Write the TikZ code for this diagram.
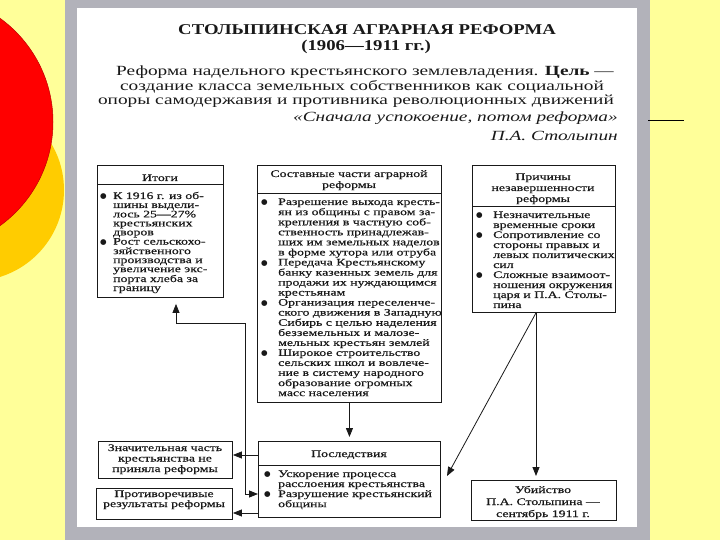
\documentclass[tikz,border=0pt]{standalone}
\usepackage{fontspec}
\setmainfont{Liberation Serif}
\newfontfamily\wf{Liberation Serif}[FakeStretch=1.38,FakeBold=0.5]
\newfontfamily\hf{Liberation Serif}[FakeStretch=1.38]
\newfontfamily\tf{Liberation Serif}[FakeStretch=1.25]
\newfontfamily\djv{DejaVu Sans}
\usetikzlibrary{arrows.meta,calc}
\definecolor{bgyellow}{RGB}{255,255,153}
\definecolor{framegray}{RGB}{178,178,186}
\definecolor{gold}{RGB}{255,204,0}
\definecolor{ink}{RGB}{25,25,25}
\newcommand{\bul}[1]{\makebox[#1][l]{\djv\fontsize{7.5}{10}\selectfont\raisebox{0.3pt}{●}}}
\begin{document}
\begin{tikzpicture}[x=1pt,y=-1pt,
  box/.style={draw=ink, line width=0.9pt, inner sep=0pt, anchor=north west},
  txt/.style={inner sep=0pt, text=ink},
  bodyf/.style={font=\wf\fontsize{10}{#1}\selectfont},
  arr/.style={draw=ink, line width=0.8pt, -{Triangle[length=9pt,width=7pt]}},
  arrb/.style={draw=ink, line width=0.8pt, {Triangle[length=9pt,width=7pt]}-{Triangle[length=9pt,width=7pt]}}]
\useasboundingbox (0,0) rectangle (720,540);
% slide background
\fill[bgyellow] (0,0) rectangle (720,540);
\fill[gold] (-27,190) circle[radius=91pt];
\fill[red, draw=red!75!black, line width=0.5pt] (-75,122) circle[radius=128pt];
\fill[framegray] (65,0) rectangle (650,540);
\fill[white] (77,8) rectangle (637,527);
\draw[black, line width=0.8pt] (648,120) -- (684,120);

% title block
\node[txt, anchor=base, font=\tf\bfseries\fontsize{15}{15}\selectfont] (title) at (367,35) {СТОЛЫПИНСКАЯ АГРАРНАЯ РЕФОРМА};
\node[txt, anchor=base, font=\tf\bfseries\fontsize{15}{15}\selectfont] (years) at (366,51) {(1906—1911 гг.)};
\node[txt, anchor=base, font=\hf\fontsize{14}{14}\selectfont] (l1) at (365,76) {Реформа надельного крестьянского землевладения. \textbf{Цель} —};
\node[txt, anchor=base, font=\hf\fontsize{14}{14}\selectfont] (l2) at (362,91) {создание класса земельных собственников как социальной};
\node[txt, anchor=base, font=\hf\fontsize{14}{14}\selectfont] (l3) at (356,105) {опоры самодержавия и противника революционных движений};
\node[txt, anchor=base east, font=\hf\itshape\fontsize{14}{14}\selectfont] (quote) at (618,122) {«Сначала успокоение, потом реформа»};
\node[txt, anchor=base east, font=\hf\itshape\fontsize{14}{14}\selectfont] (sign) at (618,141) {П.А. Столыпин};

% boxes
\node[box, minimum width=126pt, minimum height=132pt] (itogi) at (97,165) {};
\node[box, minimum width=184pt, minimum height=237pt] (sost) at (257,165) {};
\node[box, minimum width=143pt, minimum height=147pt] (prich) at (472,165) {};
\node[box, minimum width=182pt, minimum height=76pt] (posl) at (258,441) {};
\node[box, minimum width=134pt, minimum height=37pt] (znach) at (98,441) {};
\node[box, minimum width=136pt, minimum height=31pt] (protiv) at (96,488) {};
\node[box, minimum width=145pt, minimum height=40pt] (ubiy) at (471,480) {};

% header separators
\draw[ink, line width=0.9pt] (itogi.west |- 0,184) -- (itogi.east |- 0,184);
\draw[ink, line width=0.9pt] (sost.west |- 0,193) -- (sost.east |- 0,193);
\draw[ink, line width=0.9pt] (prich.west |- 0,206) -- (prich.east |- 0,206);
\draw[ink, line width=0.9pt] (posl.west |- 0,465) -- (posl.east |- 0,465);

% headers
\node[txt, anchor=base, bodyf=10] (itogiH) at (160,181) {Итоги};
\node[txt, anchor=base, bodyf=11] (sostH) at (349,177) {\begin{tabular}[t]{@{}c@{}}Составные части аграрной\\реформы\end{tabular}};
\node[txt, anchor=base, bodyf=11] (prichH) at (543,180) {\begin{tabular}[t]{@{}c@{}}Причины\\незавершенности\\реформы\end{tabular}};
\node[txt, anchor=base, bodyf=10] (poslH) at (349,457) {Последствия};

% bodies
\node[txt, anchor=base west, bodyf=9] (itogiT) at (100,199) {\begin{tabular}[t]{@{}l@{}l@{}}
\bul{13pt} & К 1916 г. из об-\\
 & шины выдели-\\
 & лось 25—27\%\\
 & крестьянских\\
 & дворов\\
\bul{13pt} & Рост сельскохо-\\
 & зяйственного\\
 & производства и\\
 & увеличение экс-\\
 & порта хлеба за\\
 & границу
\end{tabular}};

\node[txt, anchor=base west, bodyf=10] (sostT) at (261,205) {\begin{tabular}[t]{@{}l@{}l@{}}
\bul{17pt} & Разрешение выхода кресть-\\
 & ян из общины с правом за-\\
 & крепления в частную соб-\\
 & ственность принадлежав-\\
 & ших им земельных наделов\\
 & в форме хутора или отруба\\
\bul{17pt} & Передача Крестьянскому\\
 & банку казенных земель для\\
 & продажи их нуждающимся\\
 & крестьянам\\
\bul{17pt} & Организация переселенче-\\
 & ского движения в Западную\\
 & Сибирь с целью наделения\\
 & безземельных и малозе-\\
 & мельных крестьян землей\\
\bul{17pt} & Широкое строительство\\
 & сельских школ и вовлече-\\
 & ние в систему народного\\
 & образование огромных\\
 & масс населения
\end{tabular}};

\node[txt, anchor=base west, bodyf=10] (prichT) at (476,218) {\begin{tabular}[t]{@{}l@{}l@{}}
\bul{17pt} & Незначительные\\
 & временные сроки\\
\bul{17pt} & Сопротивление со\\
 & стороны правых и\\
 & левых политических\\
 & сил\\
\bul{17pt} & Сложные взаимоот-\\
 & ношения окружения\\
 & царя и П.А. Столы-\\
 & пина
\end{tabular}};

\node[txt, anchor=base west, bodyf=10] (poslT) at (264,477) {\begin{tabular}[t]{@{}l@{}l@{}}
\bul{14pt} & Ускорение процесса\\
 & расслоения крестьянства\\
\bul{14pt} & Разрушение крестьянский\\
 & общины
\end{tabular}};

\node[txt, anchor=base, bodyf=10.5] (znachT) at (165,451) {\begin{tabular}[t]{@{}c@{}}Значительная часть\\крестьянства не\\приняла реформы\end{tabular}};
\node[txt, anchor=base, bodyf=10] (protivT) at (164,497) {\begin{tabular}[t]{@{}c@{}}Противоречивые\\результаты реформы\end{tabular}};
\node[txt, anchor=base, bodyf=12] (ubiyT) at (543,493) {\begin{tabular}[t]{@{}c@{}}Убийство\\П.А. Столыпина —\\сентябрь 1911 г.\end{tabular}};

% connectors
\coordinate (yA) at (0,455);
\coordinate (yB) at (0,513);
\coordinate (yC) at (0,494);
\coordinate (xJ) at (245,323);
\coordinate (xI) at (176,0);
\coordinate (xP) at (536,0);
\coordinate (dtip) at (447,476);
\draw[arr, shorten >=4pt] (sost.south) -- (posl.north);
\draw[arr] (posl.west |- yA) -- (znach.east |- yA);
\draw[arr] (posl.west |- yB) -- (protiv.east |- yB);
\draw[arrb, shorten >=6pt] (posl.west |- yC) -- (xJ |- yC) -- (xJ) -| (itogi.south -| xI);
\draw[arr, shorten >=4pt] (prich.south -| xP) -- (ubiy.north -| xP);
\draw[arr] (prich.south -| xP) -- (dtip);
\end{tikzpicture}
\end{document}
